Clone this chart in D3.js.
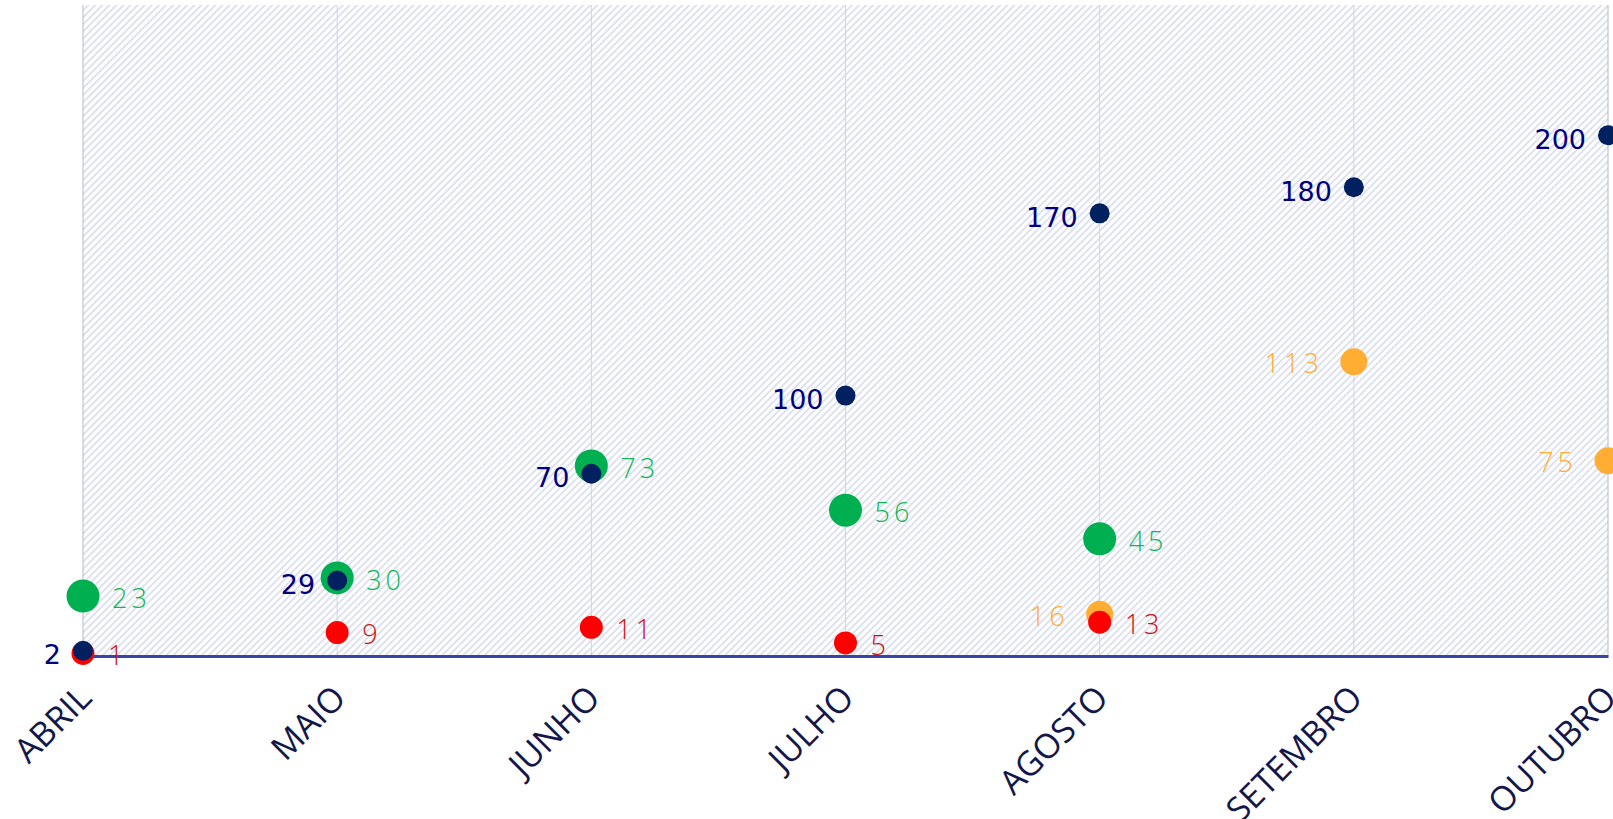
<!DOCTYPE html>
<html>
<head>
<meta charset="utf-8">
<script src="https://cdn.jsdelivr.net/npm/d3@7"></script>
<style>
  html, body { margin: 0; padding: 0; background: #ffffff; overflow: hidden; }
  svg { display: block; }
</style>
</head>
<body>
<script>
const categories = ["ABRIL", "MAIO", "JUNHO", "JULHO", "AGOSTO", "SETEMBRO", "OUTUBRO"];
const navyValues   = [2, 29, 70, 100, 170, 180, 200];
const greenValues  = [23, 30, 73, 56, 45, null, null];
const redValues    = [1, 9, 11, 5, 13, null, null];
const orangeValues = [null, null, null, null, 16, 113, 75];
const yDomain = [0, 250];

const W = 1613, H = 819;
const svg = d3.select("body").append("svg").attr("width", W).attr("height", H);

const x = d3.scalePoint().domain(categories).range([83, 1608]);
const y = d3.scaleLinear().domain(yDomain).range([656, 5]);

// hatch pattern
const defs = svg.append("defs");
const pat = defs.append("pattern")
  .attr("id", "hatch").attr("patternUnits", "userSpaceOnUse")
  .attr("width", 5).attr("height", 5)
  .attr("patternTransform", "rotate(45)");
pat.append("rect").attr("width", 5).attr("height", 5).attr("fill", "#ffffff");
pat.append("line").attr("x1", 1).attr("y1", 0).attr("x2", 1).attr("y2", 5)
  .attr("stroke", "#d6dbea").attr("stroke-width", 1.6);

const [x0, x1] = x.range();
const [yb, yt] = y.range();
svg.append("rect").attr("x", x0).attr("y", yt).attr("width", x1 - x0).attr("height", yb - yt)
  .attr("fill", "url(#hatch)");

// vertical gridlines
svg.append("g").selectAll("line").data(categories).join("line")
  .attr("x1", d => x(d)).attr("x2", d => x(d))
  .attr("y1", yt).attr("y2", yb)
  .attr("stroke", (d, i) => (i === 0 || i === categories.length - 1) ? "#b4b8d0" : "#d0d3e6")
  .attr("stroke-width", 1);

// baseline axis
const xAxis = d3.axisBottom(x).tickSize(0).tickPadding(0);
const gx = svg.append("g").attr("transform", `translate(0,${yb})`).call(xAxis);
gx.select(".domain").attr("stroke", "#3a44a8").attr("stroke-width", 3);
gx.selectAll(".tick text")
  .attr("font-family", "'Open Sans', sans-serif")
  .attr("font-size", 34)
  .attr("fill", "#14174a")
  .attr("text-anchor", "end")
  .attr("dy", null).attr("y", 0)
  .attr("transform", "translate(10,44) rotate(-45)");

function series(values, color, r) {
  const data = categories.map((c, i) => ({ c, v: values[i] })).filter(d => d.v != null);
  svg.append("g").selectAll("circle").data(data).join("circle")
    .attr("cx", d => x(d.c)).attr("cy", d => y(d.v)).attr("r", r).attr("fill", color);
}

function addLabels(values, color, offset, anchor, font, size, spacing, weight, dy) {
  const data = categories.map((c, i) => ({ c, v: values[i] })).filter(d => d.v != null);
  svg.append("g").selectAll("text").data(data).join("text")
    .attr("x", d => x(d.c) + offset).attr("y", d => y(d.v))
    .attr("dy", dy)
    .attr("text-anchor", anchor)
    .attr("font-family", font).attr("font-size", size)
    .attr("font-weight", weight)
    .attr("letter-spacing", spacing)
    .attr("fill", color)
    .text(d => d.v);
}

series(greenValues, "#00b050", 16.5);
series(orangeValues, "#ffad33", 13.5);
series(redValues, "#ff0000", 11.5);
series(navyValues, "#002060", 10);

addLabels(greenValues, "#12b556", 29, "start", "'Open Sans', sans-serif", 27, 4, 300, "0.45em");
addLabels(orangeValues, "#ffad33", -31, "end", "'Open Sans', sans-serif", 27, 4, 300, "0.43em");
addLabels(redValues, "#cc1111", 25, "start", "'Open Sans', sans-serif", 27, 4, 300, "0.43em");
addLabels(navyValues, "#000080", -22, "end", "'DejaVu Sans', sans-serif", 27, 0, 400, "0.5em");
</script>
</body>
</html>
